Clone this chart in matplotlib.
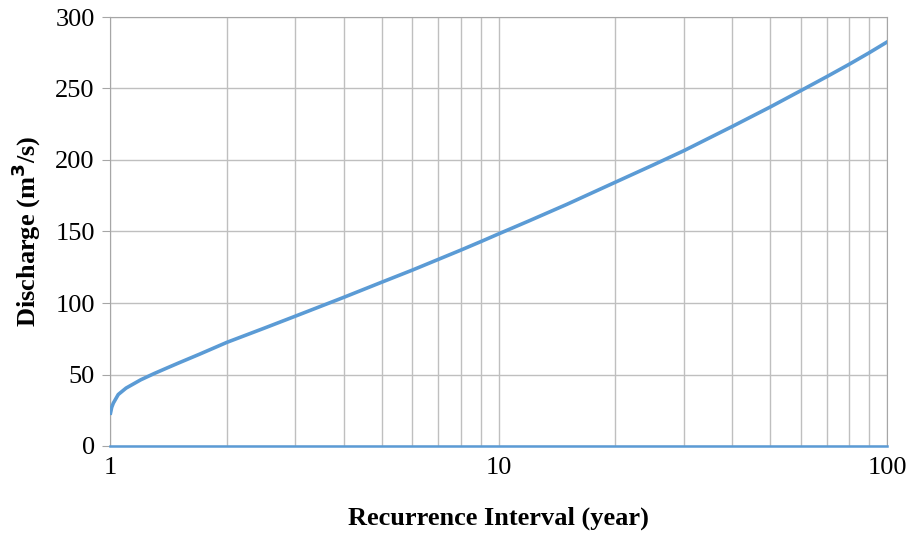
import matplotlib.pyplot as plt
from matplotlib.ticker import FixedLocator, NullFormatter

plt.rcParams['font.family'] = ['Liberation Serif', 'DejaVu Serif']

# Recurrence interval (year) and discharge (m3/s)
recurrence = [1.003, 1.01, 1.02, 1.05, 1.1, 1.2, 1.3, 1.4, 1.5, 1.7, 2, 2.5,
              3, 4, 5, 6, 7, 8, 9, 10, 12, 15, 20, 25, 30, 40, 50, 60, 70,
              80, 90, 100]
discharge = [23, 27, 30, 36, 40.5, 46.3, 50.7, 54.5, 58, 64.2, 72.5, 82.5,
             90.8, 104, 114.5, 123, 130.5, 137, 142.9, 148.3, 157.5, 169,
             184.5, 196.5, 206.5, 223.5, 237, 248.5, 258.3, 267, 275, 282.5]

x_ticks = [1, 10, 100]
x_tick_labels = ['1', '10', '100']
y_ticks = [0, 50, 100, 150, 200, 250, 300]

blue = '#5b9bd5'
grid = '#bfbfbf'

fig = plt.figure(figsize=(9.13, 5.38), dpi=100)
ax = fig.add_axes([110 / 913, 92 / 538, 777 / 913, 429 / 538])

ax.set_xscale('log')
ax.set_xlim(1, 100)
ax.set_ylim(0, 300)

# minor + major vertical grid, horizontal grid at majors
ax.xaxis.set_major_locator(FixedLocator(x_ticks))
ax.xaxis.set_minor_locator(FixedLocator([v * d for d in (1, 10) for v in range(2, 10)]))
ax.xaxis.set_minor_formatter(NullFormatter())
ax.set_xticklabels(x_tick_labels)
ax.set_yticks(y_ticks)
ax.grid(True, which='both', axis='x', color=grid, linewidth=1)
ax.grid(True, which='major', axis='y', color=grid, linewidth=1)
ax.set_axisbelow(True)

ax.plot(recurrence, discharge, color=blue, linewidth=2.6, zorder=3)
ax.axhline(0, color=blue, linewidth=1.8, zorder=3, clip_on=False)

for side in ('left', 'top', 'right'):
    ax.spines[side].set_color('#a6a6a6')
ax.spines['bottom'].set_visible(False)
ax.tick_params(axis='y', direction='out', length=6, color='#a6a6a6', labelsize=19, pad=5)
ax.tick_params(axis='x', which='both', length=0, labelsize=19, pad=8)

ax.set_xlabel('Recurrence Interval (year)', fontsize=19, fontweight='bold', labelpad=20)
ax.set_ylabel('Discharge (m$^\\mathbf{3}$/s)', fontsize=19, fontweight='bold', labelpad=9)

fig.savefig('out.png', dpi=100)
